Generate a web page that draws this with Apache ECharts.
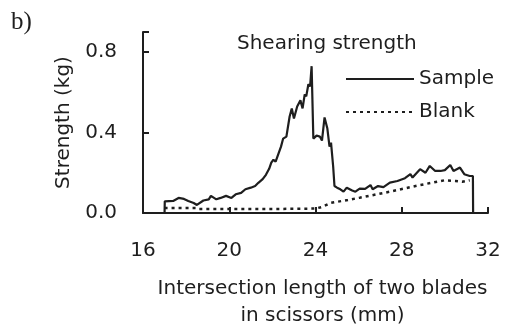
<!DOCTYPE html>
<html><head><meta charset="utf-8">
<script src="https://cdn.jsdelivr.net/npm/echarts@6/dist/echarts.min.js"></script>
<style>html,body{margin:0;padding:0;background:#fff}#c{width:507px;height:328px}</style>
</head><body><div id="c"></div>
<script>
const xTicks = [16, 20, 24, 28, 32];
const yTicks = [0.0, 0.4, 0.8];
const sampleX = [17.0, 17.01, 17.1, 17.4, 17.65, 17.9, 18.1, 18.35, 18.5, 18.8, 19.05, 19.15, 19.4, 19.6, 19.85, 20.1, 20.3, 20.55, 20.75, 21.0, 21.2, 21.35, 21.55, 21.7, 21.85, 21.95, 22.05, 22.15, 22.3, 22.4, 22.5, 22.65, 22.8, 22.9, 23.0, 23.15, 23.3, 23.4, 23.5, 23.57, 23.67, 23.75, 23.82, 23.9, 24.05, 24.2, 24.3, 24.42, 24.55, 24.65, 24.72, 24.82, 24.88, 25.0, 25.15, 25.3, 25.45, 25.7, 25.85, 26.05, 26.3, 26.55, 26.65, 26.9, 27.15, 27.45, 27.8, 28.15, 28.4, 28.5, 28.85, 29.1, 29.3, 29.55, 29.8, 30.0, 30.25, 30.4, 30.7, 30.9, 31.15, 31.3, 31.31];
const sampleY = [0.0, 0.058, 0.05, 0.06, 0.075, 0.07, 0.06, 0.05, 0.04, 0.062, 0.068, 0.085, 0.068, 0.075, 0.085, 0.075, 0.093, 0.1, 0.118, 0.126, 0.134, 0.15, 0.168, 0.19, 0.22, 0.25, 0.265, 0.255, 0.3, 0.33, 0.37, 0.38, 0.48, 0.52, 0.47, 0.53, 0.56, 0.52, 0.59, 0.58, 0.64, 0.63, 0.73, 0.37, 0.385, 0.38, 0.36, 0.475, 0.42, 0.33, 0.35, 0.23, 0.134, 0.126, 0.118, 0.106, 0.126, 0.112, 0.106, 0.121, 0.12, 0.139, 0.118, 0.134, 0.129, 0.151, 0.159, 0.173, 0.193, 0.176, 0.218, 0.2, 0.234, 0.209, 0.209, 0.213, 0.239, 0.209, 0.226, 0.193, 0.184, 0.184, 0.0];
const blankX = [17.0, 18.5, 18.6, 20.0, 22.0, 24.0, 24.3, 24.7, 25.5, 26.05, 27.45, 28.85, 30.0, 30.5, 30.8, 31.15];
const blankY = [0.025, 0.025, 0.02, 0.02, 0.02, 0.022, 0.03, 0.05, 0.065, 0.076, 0.106, 0.139, 0.163, 0.159, 0.155, 0.163];

const FONT = 'DejaVu Sans';
const INK = '#1e1e1e';
const FS = 20;
const chart = echarts.init(document.getElementById('c'), null, {renderer: 'canvas'});
chart.setOption({
  animation: false,
  backgroundColor: '#fff',
  textStyle: {fontFamily: FONT, color: INK},
  title: {
    text: 'Shearing strength', left: 232, top: 29,
    textStyle: {fontFamily: FONT, fontSize: FS, fontWeight: 'normal', color: INK}
  },
  graphic: [{
    type: 'text', left: 11, top: 10,
    style: {text: 'b)', fontFamily: 'Liberation Serif', fontSize: 25, fill: INK}
  }],
  legend: {
    orient: 'vertical', left: 340, top: 64, itemWidth: 68, itemHeight: 14, itemGap: 13,
    itemStyle: {opacity: 0},
    textStyle: {fontFamily: FONT, fontSize: FS, color: INK},
    data: ['Sample', 'Blank']
  },
  grid: {left: 143, right: 19, top: 32, bottom: 115, outerBoundsMode: 'none'},
  xAxis: {
    type: 'value', min: xTicks[0], max: xTicks[xTicks.length - 1], interval: 4,
    name: 'Intersection length of two blades\nin scissors (mm)',
    nameLocation: 'middle', nameGap: 62,
    nameTextStyle: {fontFamily: FONT, fontSize: FS, color: INK, lineHeight: 27, padding: [0, 0, 0, 14]},
    axisLine: {lineStyle: {color: INK, width: 2}},
    axisTick: {inside: true, length: 6, lineStyle: {color: INK, width: 2}},
    axisLabel: {margin: 28, fontFamily: FONT, fontSize: FS, color: INK},
    splitLine: {show: false}
  },
  yAxis: {
    type: 'value', min: 0, max: 0.9, interval: 0.4,
    name: 'Strength (kg)', nameLocation: 'middle', nameGap: 61, nameRotate: 90,
    nameTextStyle: {fontFamily: FONT, fontSize: FS, color: INK},
    axisLine: {show: true, lineStyle: {color: INK, width: 2}},
    axisTick: {show: true, inside: true, length: 6, lineStyle: {color: INK, width: 2}},
    axisLabel: {margin: 26, fontFamily: FONT, fontSize: FS, color: INK,
      formatter: v => yTicks.indexOf(Math.round(v * 10) / 10) >= 0 ? v.toFixed(1) : ''},
    splitLine: {show: false}
  },
  series: [{
    name: 'Sample', type: 'line', showSymbol: false, symbol: 'none',
    data: sampleX.map((x, i) => [x, sampleY[i]]),
    lineStyle: {color: INK, width: 2.2}, itemStyle: {color: INK}
  }, {
    name: 'Blank', type: 'line', showSymbol: false, symbol: 'none',
    data: blankX.map((x, i) => [x, blankY[i]]),
    lineStyle: {color: INK, width: 2.5, type: [3, 4]}, itemStyle: {color: INK}
  }]
});
</script></body></html>
